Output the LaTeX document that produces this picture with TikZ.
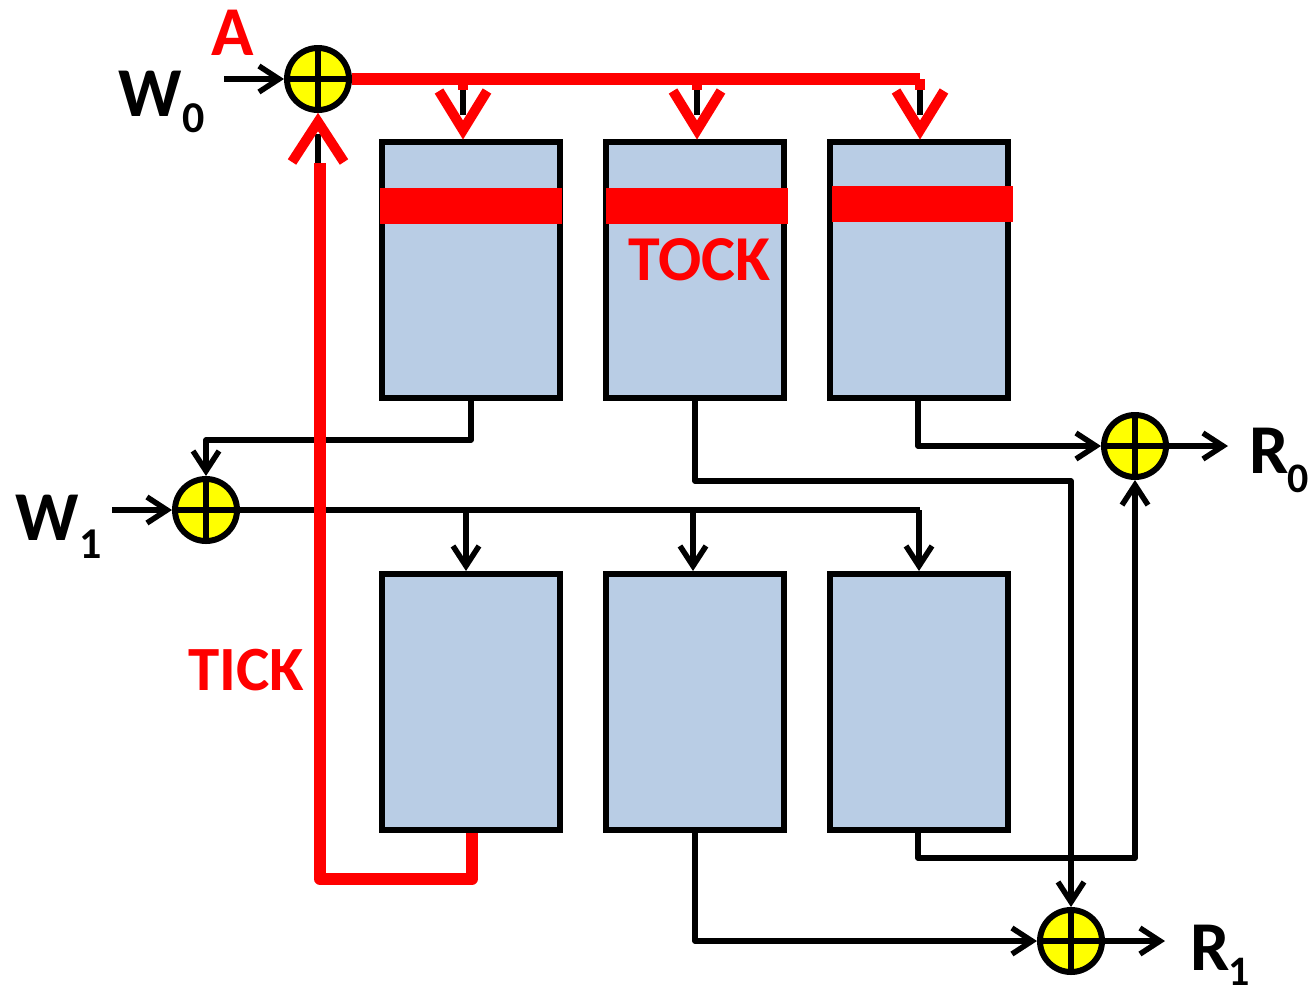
\documentclass[tikz,border=0pt]{standalone}
\usepackage{fontspec}
\setmainfont{Carlito}
\usetikzlibrary{arrows.meta}
\definecolor{boxblue}{HTML}{B9CDE5}
\definecolor{tred}{HTML}{FF0000}
\definecolor{xyellow}{HTML}{FFFF00}
\begin{document}
\begin{tikzpicture}[x=1pt,y=-1pt,
  mem/.style={draw=black,line width=6pt,fill=boxblue,minimum width=178pt,minimum height=256pt,inner sep=0pt},
  xorg/.style={circle,draw=black,line width=6pt,fill=xyellow,minimum size=62pt,inner sep=0pt,
    path picture={\draw[line width=6pt] (path picture bounding box.north)--(path picture bounding box.south)
       (path picture bounding box.west)--(path picture bounding box.east);}},
  wire/.style={draw=black,line width=5.5pt,line join=round},
  arr/.style={wire,-{Straight Barb[length=20pt,width=26pt,line width=5.5pt]}},
  redw/.style={draw=tred,line width=12pt,line join=round},
  redv/.style={draw=tred,line width=10pt,line join=miter},
  redstub/.style={draw=tred,line width=10pt},
  blackstub/.style={draw=black,line width=6pt},
  bar/.style={fill=tred},
  lab/.style={anchor=base west,inner sep=0pt,font=\bfseries\fontsize{70}{70}\selectfont},
  rlab/.style={lab,text=tred,font=\bfseries\fontsize{64}{64}\selectfont},
]
\useasboundingbox (0,0) rectangle (1311,994);

% memory boxes
\node[mem] (T1) at (471,270) {};
\node[mem] (T2) at (695,270) {};
\node[mem] (T3) at (919,270) {};
\node[mem] (B1) at (471,702) {};
\node[mem] (B2) at (695,702) {};
\node[mem] (B3) at (919,702) {};

% red bars
\fill[bar] (380,188) rectangle (562,224);
\fill[bar] (606,188) rectangle (788,224);
\fill[bar] (832,186) rectangle (1013,222);

% xor gates
\node[xorg] (xa) at (318,79) {};
\node[xorg] (xw) at (206,510) {};
\node[xorg] (xr0) at (1135,446) {};
\node[xorg] (xr1) at (1071,941) {};

% free ends
\coordinate (w0in) at (224,79);
\coordinate (w1in) at (112,510);
\coordinate (r0out) at (1228,446);
\coordinate (r1out) at (1165,941);
\coordinate (busA) at (920,79);
\coordinate (busW) at (920,510);

% black wires
\draw[arr] (w0in) -- (xa.west);
\draw[arr] (w1in) -- (xw.west);
\draw[arr] (T1.south) -- ++(0,39) -| (xw.north);
\draw[wire] (xw.east) -- (busW);
\draw[arr] ([xshift=-5pt]B1.north |- busW) -- ([xshift=-5pt]B1.north);
\draw[arr] ([xshift=-2pt]B2.north |- busW) -- ([xshift=-2pt]B2.north);
\draw[arr] (B3.north |- busW) -- (B3.north);
\draw[arr] (T2.south) -- ++(0,80) -| (xr1.north);
\draw[arr] ([xshift=-1pt]T3.south) |- (xr0.west);
\draw[arr] ([xshift=-1pt]B3.south) -- ++(0,25) -| (xr0.south);
\draw[arr] (B2.south) |- (xr1.west);
\draw[arr] (xr0.east) -- (r0out);
\draw[arr] (xr1.east) -- (r1out);

% red TOCK bus with arrows
\draw[redw] (xa.east) -- (busA);
\foreach \b/\dx in {T1/-8,T2/2,T3/1}{
  \draw[redstub] ([xshift=\dx pt]\b.north |- busA) -- ([shift={(\dx,-49)}]\b.north);
  \draw[blackstub] ([shift={(\dx,-49)}]\b.north) -- ([shift={(\dx,-24)}]\b.north);
  \draw[redv] ([shift={(\dx-24,-48)}]\b.north) -- ([shift={(\dx,-9)}]\b.north) -- ([shift={(\dx+24,-48)}]\b.north);
}

% red TICK loop
\coordinate (tickc) at (320,879);
\draw[redw] ([xshift=1pt]B1.south) -- ([xshift=1pt]B1.south |- tickc) -- (tickc) -- (320,163);
\draw[blackstub] (xa.south |- 0,163) -- (xa.south |- 0,134);
\draw[redv] ([shift={(-26,49)}]xa.south) -- ([shift={(0,9)}]xa.south) -- ([shift={(26,49)}]xa.south);

% labels
\node[lab] (lw0) at (118,116) {W\kern1pt\raisebox{-16pt}{\fontsize{44}{44}\selectfont 0}};
\node[lab] (lw1) at (15,540) {W\kern1pt\raisebox{-18pt}{\fontsize{44}{44}\selectfont 1}};
\node[lab] (lr0) at (1249,473) {R\kern-1pt\raisebox{-19pt}{\fontsize{42}{42}\selectfont 0}};
\node[lab] (lr1) at (1190,970) {R\kern-1pt\raisebox{-15pt}{\fontsize{42}{42}\selectfont 1}};
\node[rlab,font=\bfseries\fontsize{70}{70}\selectfont] (la) at (211,55) {A};
\node[rlab] (ltock) at (628,280) {TOCK};
\node[rlab,font=\bfseries\fontsize{63}{63}\selectfont] (ltick) at (188,690) {TICK};
\end{tikzpicture}
\end{document}
